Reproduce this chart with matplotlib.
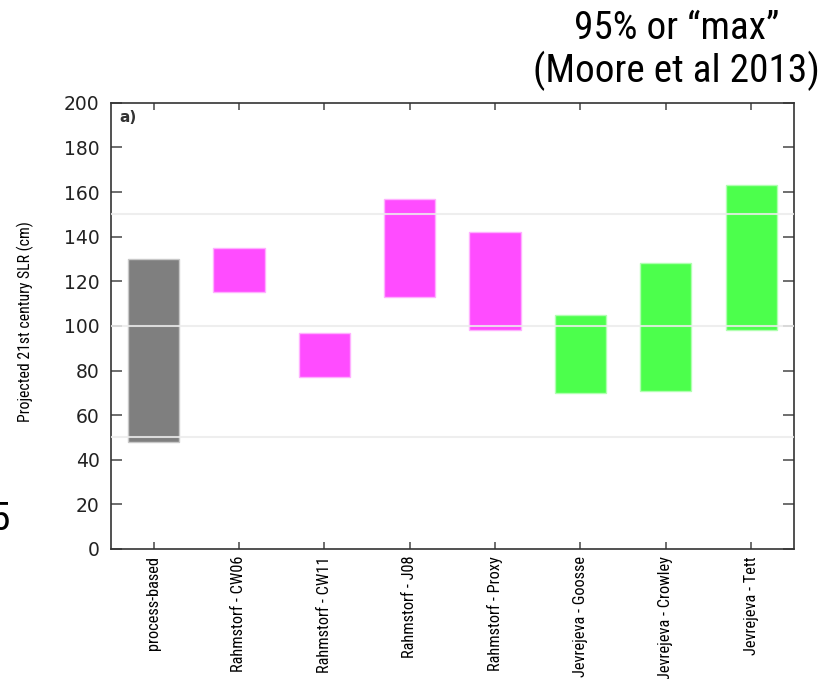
import matplotlib
matplotlib.use('Agg')
import matplotlib.pyplot as plt
import matplotlib.font_manager as fm
import numpy as np

# projected 21st century SLR ranges (cm)
methods = ['process-based', 'Rahmstorf - CW06', 'Rahmstorf - CW11', 'Rahmstorf - J08',
           'Rahmstorf - Proxy', 'Jevrejeva - Goosse', 'Jevrejeva - Crowley', 'Jevrejeva - Tett']
slr_low = [48, 115, 77, 113, 98, 70, 71, 98]
slr_high = [130, 135, 97, 157, 142, 105, 128, 163]
group = ['process', 'rahmstorf', 'rahmstorf', 'rahmstorf', 'rahmstorf',
         'jevrejeva', 'jevrejeva', 'jevrejeva']

colors = {'process': '#7f7f7f', 'rahmstorf': '#ff4cff', 'jevrejeva': '#4cff4c'}
edges = {'process': '#c8c8c8', 'rahmstorf': '#ffb0ff', 'jevrejeva': '#b0ffb0'}


# look for a narrow sans font (the slide uses Arial Narrow), else plain Liberation Sans
def narrow_font():
    fonts = fm.fontManager.ttflist
    for want in ['Liberation Sans Narrow', 'Arial Narrow', 'Roboto Condensed',
                 'Noto Sans Condensed', 'Open Sans Condensed']:
        for f in fonts:
            if f.name == want and f.style == 'normal' and f.weight in (400, 'normal', 'regular'):
                return fm.FontProperties(fname=f.fname)
    for f in fonts:
        if f.stretch in ('condensed', 'semi-condensed') and f.style == 'normal' \
                and 'Sans' in f.name and 'Mono' not in f.name and f.weight in (400, 'normal', 'regular'):
            return fm.FontProperties(fname=f.fname)
    return fm.FontProperties(family='Liberation Sans')


base = narrow_font()


def fp(size):
    p = base.copy()
    p.set_size(size)
    return p


fig = plt.figure(figsize=(8.27, 6.79), dpi=100)
ax = fig.add_axes([0.134, 0.1915, 0.826, 0.657])

x = np.arange(1, len(methods) + 1)
low = np.array(slr_low)
high = np.array(slr_high)
ax.bar(x, high - low, bottom=low, width=0.6,
       color=[colors[g] for g in group],
       edgecolor=[edges[g] for g in group], linewidth=1, zorder=2)

for yv in [50, 100, 150]:
    ax.axhline(yv, color='#ececec', lw=1.5, alpha=0.85, zorder=3)

ax.set_xlim(0.5, 8.5)
ax.set_ylim(0, 200)
ax.set_yticks(np.arange(0, 201, 20))
ax.set_xticks(x)
ax.set_xticklabels(methods, rotation=90)
ax.tick_params(axis='both', direction='in', length=8, width=1.2, color='#555555',
               top=True, right=True)
ax.tick_params(axis='x', length=5, pad=5)
ax.tick_params(axis='y', labelsize=13.5, pad=8)
for lab in ax.get_yticklabels():
    lab.set_family('DejaVu Sans')
    lab.set_color('#222222')
for sp in ax.spines.values():
    sp.set_color('#333333')
    sp.set_linewidth(1.2)

ylab = ax.set_ylabel('Projected 21st century SLR (cm)')
ax.yaxis.set_label_coords(-0.112, 0.509)
ax.text(0.012, 0.985, 'a)', transform=ax.transAxes, ha='left', va='top',
        fontsize=11, fontweight='bold', color='#333333')

t1 = fig.text(0.818, 0.958, '95% or \u201cmax\u201d', ha='center', va='center')
t2 = fig.text(0.818, 0.896, '(Moore et al 2013)', ha='center', va='center')
# cut-off text at the left edge of the slide
t3 = fig.text(-0.012, 0.235, '5', ha='left', va='center')

# size the narrow-font texts to the lengths they have on the slide
fig.canvas.draw()
r = fig.canvas.get_renderer()


def fit(artist, target_px, vertical=False, size0=12):
    size = size0
    for _ in range(2):
        artist.set_fontproperties(fp(size))
        bb = artist.get_window_extent(r)
        cur = bb.height if vertical else bb.width
        size = size * target_px / cur
    return size


s_tick = fit(ax.get_xticklabels()[0], 95, vertical=True)
for lab in ax.get_xticklabels():
    lab.set_fontproperties(fp(s_tick))
ylab.set_fontproperties(fp(fit(ylab, 200, vertical=True)))
s_title = fit(t2, 287)
for t in (t1, t2, t3):
    t.set_fontproperties(fp(s_title))

fig.savefig('out.png', dpi=100)
